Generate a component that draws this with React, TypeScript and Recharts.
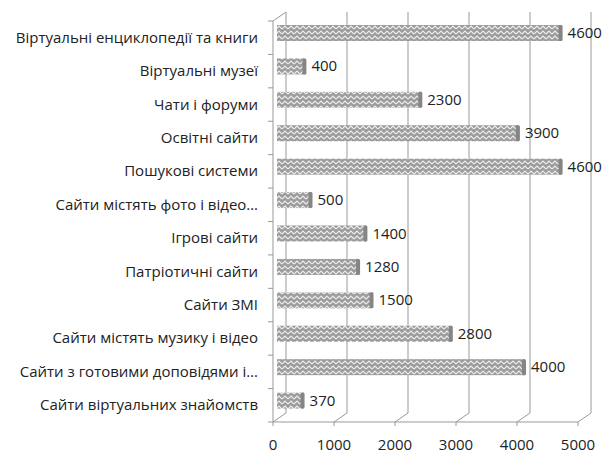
import { BarChart, Bar, XAxis, YAxis, CartesianGrid, LabelList } from "recharts";

const categories = [
  "Віртуальні енциклопедії та книги",
  "Віртуальні музеї",
  "Чати і форуми",
  "Освітні сайти",
  "Пошукові системи",
  "Сайти містять фото і відео…",
  "Ігрові сайти",
  "Патріотичні сайти",
  "Сайти ЗМІ",
  "Сайти містять музику і відео",
  "Сайти з готовими доповідями і…",
  "Сайти віртуальних знайомств",
];
const values = [4600, 400, 2300, 3900, 4600, 500, 1400, 1280, 1500, 2800, 4000, 370];
const xTicks = [0, 1000, 2000, 3000, 4000, 5000];

const data = categories.map((name, i) => ({ name, value: values[i] }));

// 3D depth offsets (back wall -> front floor)
const DX = 13;
const DY = 9;
const LEFT = 286;
const TOP = 12;
const BOTTOM = 413;
const FONT = "'Open Sans', sans-serif";
const FS = 15;
const LINE = "#999";

const BarShape = (props: any) => {
  const { x, y, width, height } = props;
  const x0 = x - 9;
  const w = width + 4;
  const yy = y + 4;
  return (
    <g>
      <rect x={x0} y={yy} width={w} height={height} fill="url(#zig)" />
      <rect x={x0 + w - 3} y={yy} width={4} height={height} rx={1.5} fill="#858585" />
    </g>
  );
};

const ValueLabel = (props: any) => {
  const { x, y, width, height, value } = props;
  return (
    <text x={x + width + 1} y={y + 4 + height / 2 + 5} fontSize={FS} fontFamily={FONT} fill="#222">
      {value}
    </text>
  );
};

const YTick = (props: any) => {
  const { y, index } = props;
  const band = (BOTTOM - TOP) / categories.length;
  const fy = y + DY;
  return (
    <g>
      <text x={LEFT - 28} y={fy + 5} textAnchor="end" fontSize={FS} fontFamily={FONT} fill="#222">
        {props.payload.value}
      </text>
      <line x1={LEFT - DX - 5} x2={LEFT - DX} y1={fy + band / 2} y2={fy + band / 2} stroke={LINE} />
      {index === 0 && (
        <line x1={LEFT - DX - 5} x2={LEFT - DX} y1={fy - band / 2} y2={fy - band / 2} stroke={LINE} />
      )}
    </g>
  );
};

const XTick = (props: any) => {
  const { x, payload } = props;
  const fx = x - DX;
  return (
    <g>
      <line x1={x} y1={BOTTOM} x2={fx} y2={BOTTOM + DY} stroke={LINE} />
      <line x1={fx} y1={BOTTOM + DY} x2={fx} y2={BOTTOM + DY + 4} stroke={LINE} />
      <text x={fx} y={BOTTOM + 37} textAnchor="middle" fontSize={FS} fontFamily={FONT} fill="#222">
        {payload.value}
      </text>
    </g>
  );
};

export default function App() {
  const right = 591;
  return (
    <div style={{ position: "absolute", left: 0, top: 0, width: 605, height: 454, background: "#fff" }}>
      <BarChart
        width={605}
        height={454}
        data={data}
        layout="vertical"
        margin={{ top: TOP, right: 605 - right, bottom: 0, left: 0 }}
        barSize={16}
      >
        <defs>
          <pattern id="zig" width="6" height="5" patternUnits="userSpaceOnUse">
            <rect width="6" height="5" fill="#9c9c9c" />
            <path d="M0 4 L3 1 L6 4" fill="none" stroke="#eeeeee" strokeWidth="1.2" />
          </pattern>
        </defs>
        <CartesianGrid horizontal={false} stroke={LINE} strokeWidth={1} />
        <XAxis
          type="number"
          domain={[0, 5000]}
          ticks={xTicks}
          height={454 - BOTTOM}
          axisLine={false}
          tickLine={false}
          tick={<XTick />}
          interval={0}
        />
        <YAxis
          type="category"
          dataKey="name"
          width={LEFT}
          axisLine={false}
          tickLine={false}
          tick={<YTick />}
          interval={0}
        />
        <Bar dataKey="value" shape={<BarShape />} isAnimationActive={false}>
          <LabelList dataKey="value" content={<ValueLabel />} />
        </Bar>
      </BarChart>
      <svg
        width={605}
        height={454}
        style={{ position: "absolute", left: 0, top: 0, pointerEvents: "none" }}
      >
        <line x1={LEFT - DX} y1={TOP + DY} x2={LEFT - DX} y2={BOTTOM + DY} stroke={LINE} />
        <line x1={LEFT - DX} y1={TOP + DY} x2={LEFT} y2={TOP} stroke={LINE} />
        <line x1={LEFT - DX} y1={BOTTOM + DY} x2={right - DX} y2={BOTTOM + DY} stroke={LINE} />
      </svg>
    </div>
  );
}
